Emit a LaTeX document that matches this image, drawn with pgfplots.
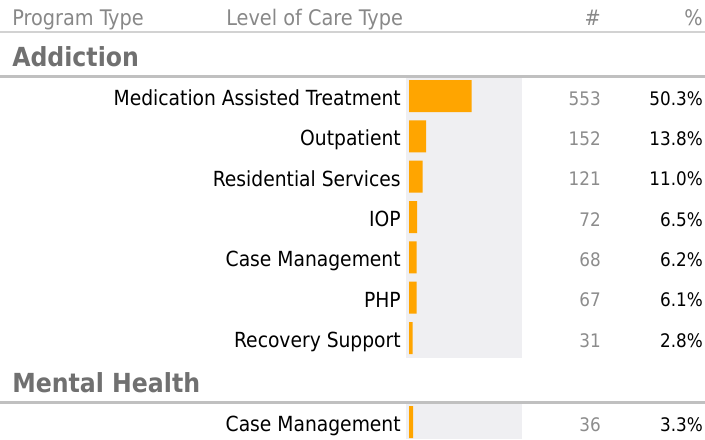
\documentclass[border=0pt]{standalone}
\usepackage{fontspec}
\setmainfont{DejaVu Sans Condensed}
\usepackage{pgfplots}
\usepackage{pgfplotstable}
\pgfplotsset{compat=1.18}
\definecolor{barorange}{RGB}{255,165,0}
\definecolor{panel}{RGB}{239,239,242}
\definecolor{hdrgray}{RGB}{136,136,136}
\definecolor{numgray}{RGB}{140,140,140}
\definecolor{secgray}{RGB}{112,112,112}
\definecolor{rulegray}{RGB}{192,192,192}
\definecolor{hdrrule}{RGB}{210,210,210}
\pgfplotstableread{
y n pct
96 553 50.3
136.3 152 13.8
176.7 121 11.0
217 72 6.5
257.3 68 6.2
297.7 67 6.1
338 31 2.8
422 36 3.3
}\datatable
\begin{document}
\begin{tikzpicture}[x=0.75pt,y=-0.75pt]
\useasboundingbox (0,0) rectangle (705,439);
% header
\node[anchor=base west, text=hdrgray, font=\fontsize{16.1}{18}\selectfont, inner sep=0pt] at (12,25) {Program Type};
\node[anchor=base west, text=hdrgray, font=\fontsize{16.1}{18}\selectfont, inner sep=0pt] at (226,25) {Level of Care Type};
\node[anchor=base east, text=hdrgray, font=\fontsize{16.1}{18}\selectfont, inner sep=0pt] at (601,25) {\#};
\node[anchor=base east, text=hdrgray, font=\fontsize{16.1}{18}\selectfont, inner sep=0pt] at (703,25) {\%};
\draw[hdrrule, line width=1.5pt] (0,32) -- (705,32);
% sections
\node[anchor=base west, text=secgray, font=\fontsize{19.7}{22}\selectfont\bfseries, inner sep=0pt] at (12,66.5) {Addiction};
\draw[rulegray, line width=2.25pt] (0,76.3) -- (705,76.3);
\node[anchor=base west, text=secgray, font=\fontsize{19.7}{22}\selectfont\bfseries, inner sep=0pt] at (12,392.5) {Mental Health};
\draw[rulegray, line width=2.25pt] (0,402.5) -- (705,402.5);
\begin{axis}[
  at={(304.5pt,-58.5pt)}, anchor=north west,
  scale only axis, width=87pt, height=270.75pt,
  xmin=-26.46, xmax=996.6, ymin=78, ymax=439,
  y dir=reverse, clip=false,
  axis line style={draw=none}, major tick length=0pt,
  xtick=\empty,
  ytick={96,136.3,176.7,217,257.3,297.7,338,422},
  yticklabels={Medication Assisted Treatment, Outpatient, Residential Services, IOP, Case Management, PHP, Recovery Support, Case Management},
  yticklabel style={font=\fontsize{15.6}{18}\selectfont, inner sep=0pt, anchor=base east, yshift=-7pt, xshift=-3.75pt},
  /pgf/number format/assume math mode=true,
]
\fill[panel] (axis cs:-26.46,78) rectangle (axis cs:996.6,357.7);
\fill[panel] (axis cs:-26.46,403.7) rectangle (axis cs:996.6,439);
\addplot[xbar, fill=barorange, draw=none, bar width=24pt] table[x=n, y=y] {\datatable};
\addplot[draw=none, nodes near coords, point meta=explicit,
  every node near coord/.style={anchor=base east, inner sep=0pt, yshift=-6.75pt, text=numgray, font=\fontsize{14}{16}\selectfont}]
  table[x expr=1693, y=y, meta=n] {\datatable};
\addplot[draw=none, nodes near coords={\pgfmathprintnumber[fixed,fixed zerofill,precision=1]{\pgfplotspointmeta}\%}, point meta=explicit,
  every node near coord/.style={anchor=base east, inner sep=0pt, yshift=-6.75pt, text=black, font=\fontsize{14}{16}\selectfont}]
  table[x expr=2593, y=y, meta=pct] {\datatable};
\end{axis}
\end{tikzpicture}
\end{document}
